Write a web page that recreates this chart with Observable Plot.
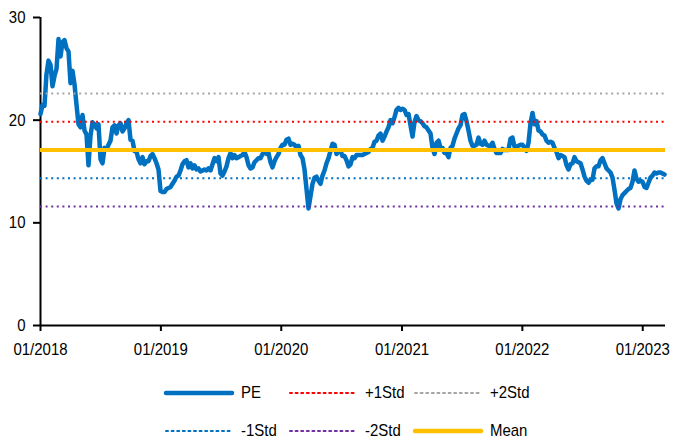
<!DOCTYPE html>
<html><head><meta charset="utf-8">
<script src="https://cdn.jsdelivr.net/npm/d3@7"></script>
<script src="https://cdn.jsdelivr.net/npm/@observablehq/plot@0.6"></script>
<style>
body{margin:0;background:#fff;font-family:"Liberation Sans",Arial,sans-serif;}
#chart svg{display:block}
#legend{position:relative;width:674px;height:73px;font-size:17px;color:#000}
.item{position:absolute;display:flex;align-items:center;height:20px}
.item span{margin-left:6px;display:inline-block;transform:scaleX(0.88);transform-origin:left center}
</style></head><body>
<div id="chart"></div>
<div id="legend"></div>
<script>
// PE series, evenly spaced readings from startDate to lastDate
const startDate = "2018-01-01";
const lastDate = "2023-03-08";
const domainEnd = "2023-03-11";
const pe = [
20.6,21.5,21.4,24.5,25.8,25.4,23.3,24.3,25.0,27.9,26.2,27.6,27.8,27.0,26.7,23.6,24.8,23.5,21.5,19.6,
19.3,20.5,19.0,18.6,15.6,18.5,19.8,19.6,19.2,19.6,16.2,15.8,17.3,17.2,17.6,18.0,19.3,19.5,18.7,19.5,
19.7,18.9,19.2,19.7,20.0,18.1,18.0,17.0,16.9,16.2,15.8,16.4,15.7,16.0,16.0,16.5,16.7,16.3,15.8,15.2,
13.1,13.0,13.0,13.3,13.4,13.5,13.8,14.1,14.5,14.6,15.1,15.7,16.0,16.1,15.4,15.8,15.3,15.6,15.2,15.3,
15.0,15.1,15.2,15.1,15.3,15.1,15.7,16.3,16.0,16.4,14.8,14.6,15.0,15.5,16.3,16.8,16.3,16.6,16.3,16.4,
16.5,16.6,16.9,16.4,15.6,15.3,15.4,15.9,16.1,16.3,16.3,16.7,16.9,16.7,16.8,15.9,15.4,16.0,16.4,16.7,
17.3,17.6,17.6,18.1,18.2,17.6,17.7,17.6,17.3,17.5,16.6,16.3,15.2,13.3,11.4,12.6,13.8,14.4,14.5,14.1,
13.8,14.6,15.1,15.8,16.3,17.0,17.7,17.6,16.7,17.0,17.0,16.5,16.5,16.1,15.5,15.7,16.4,16.3,16.6,16.6,
16.6,16.6,16.7,16.8,16.9,17.2,17.3,17.9,18.0,18.5,18.7,18.0,18.4,18.9,19.3,20.0,19.7,20.3,21.0,21.2,
21.0,21.1,21.0,20.5,20.6,19.5,18.4,19.8,20.4,20.0,19.9,19.7,19.4,19.3,19.0,18.7,17.3,16.7,17.8,18.0,
17.3,17.3,16.8,16.8,16.4,17.3,17.5,18.2,18.7,19.2,19.5,20.5,20.6,19.9,19.0,18.0,17.5,17.5,17.6,18.3,
17.7,17.6,18.0,17.6,17.5,17.5,17.8,17.2,16.8,16.8,16.8,17.2,17.1,17.1,17.1,18.2,18.3,17.4,17.4,17.5,
17.6,17.6,17.3,17.0,17.8,19.7,20.7,19.6,19.9,19.0,18.9,18.6,18.5,18.0,17.8,17.9,17.8,17.3,16.9,16.3,
16.6,16.5,16.4,15.6,15.2,15.7,15.8,16.4,16.0,15.9,15.8,15.2,14.5,14.1,13.9,14.2,14.2,15.3,15.5,15.5,
16.1,16.3,15.8,15.3,15.1,14.9,14.4,13.2,11.9,11.4,12.3,12.7,12.9,13.1,13.3,13.4,14.0,15.1,14.3,14.0,
14.1,14.0,13.5,13.4,13.9,14.4,14.6,14.9,14.8,14.9,14.9,14.8,14.7
];
const meanValue = 17.1;
const plus1Std = 19.85;
const plus2Std = 22.6;
const minus1Std = 14.35;
const minus2Std = 11.6;
const yTicks = [0, 10, 20, 30];
const xTickYears = ["2018-01-01","2019-01-01","2020-01-01","2021-01-01","2022-01-01","2023-01-01"];

const t0 = new Date(startDate), t1 = new Date(lastDate);
const step = (t1 - t0) / (pe.length - 1);
const data = pe.map((v, i) => ({date: new Date(+t0 + i * step), pe: v}));

const colors = {pe:"#0070C0", p1:"#FF0000", p2:"#A6A6A6", m1:"#0070C0", m2:"#7030A0", mean:"#FFC000"};
const dash = "2,3.6";
const font = '"Liberation Sans", Arial, sans-serif';

const chart = Plot.plot({
  width: 674, height: 370,
  marginLeft: 40, marginRight: 9, marginTop: 17, marginBottom: 45,
  style: {fontFamily: font, fontSize: "17px", color: "#000", background: "#fff"},
  x: {type: "utc", domain: [new Date(startDate), new Date(domainEnd)]},
  y: {domain: [0, 30]},
  marks: [
    Plot.axisY({ticks: yTicks, tickSize: 7, tickPadding: 8, strokeWidth: 2, label: null, fontSize: 17}),
    Plot.axisX({ticks: xTickYears.map(d => new Date(d)), tickFormat: d3.utcFormat("%m/%Y"), tickSize: 6, tickPadding: 11, strokeWidth: 2, label: null, fontSize: 17}),
    Plot.ruleX([new Date(startDate)], {stroke: "#000", strokeWidth: 2}),
    Plot.line(data, {x: "date", y: "pe", stroke: colors.pe, strokeWidth: 4.5, strokeLinejoin: "round"}),
    Plot.ruleY([plus1Std], {stroke: colors.p1, strokeWidth: 2, strokeDasharray: dash}),
    Plot.ruleY([plus2Std], {stroke: colors.p2, strokeWidth: 2, strokeDasharray: dash}),
    Plot.ruleY([minus1Std], {stroke: colors.m1, strokeWidth: 2, strokeDasharray: dash}),
    Plot.ruleY([minus2Std], {stroke: colors.m2, strokeWidth: 2, strokeDasharray: dash}),
    Plot.ruleY([meanValue], {stroke: colors.mean, strokeWidth: 4}),
    Plot.ruleY([0], {stroke: "#000", strokeWidth: 2})
  ]
});
document.getElementById("chart").append(chart);
// condense the text horizontally, like the narrow font of the original
chart.querySelectorAll("text").forEach(t => {
  const len = t.getComputedTextLength();
  if (len > 0) {
    t.setAttribute("textLength", (len * 0.88).toFixed(2));
    t.setAttribute("lengthAdjust", "spacingAndGlyphs");
  }
});

// legend
const legendItems = [
  {label:"PE", color:colors.pe, w:4.5, dash:null, left:163, top:13},
  {label:"+1Std", color:colors.p1, w:2, dash:dash, left:287, top:13},
  {label:"+2Std", color:colors.p2, w:2, dash:dash, left:412, top:13},
  {label:"-1Std", color:colors.m1, w:2, dash:dash, left:163, top:51},
  {label:"-2Std", color:colors.m2, w:2, dash:dash, left:287, top:51},
  {label:"Mean", color:colors.mean, w:4.5, dash:null, left:412, top:51}
];
const lg = document.getElementById("legend");
for (const it of legendItems) {
  const d = document.createElement("div");
  d.className = "item";
  d.style.left = it.left + "px";
  d.style.top = it.top + "px";
  d.innerHTML = `<svg width="72" height="10"><line x1="3" x2="69" y1="5" y2="5" stroke="${it.color}" stroke-width="${it.w}" stroke-linecap="round" ${it.dash ? `stroke-dasharray="${it.dash}"` : ""}/></svg><span>${it.label}</span>`;
  lg.append(d);
}
</script></body></html>
